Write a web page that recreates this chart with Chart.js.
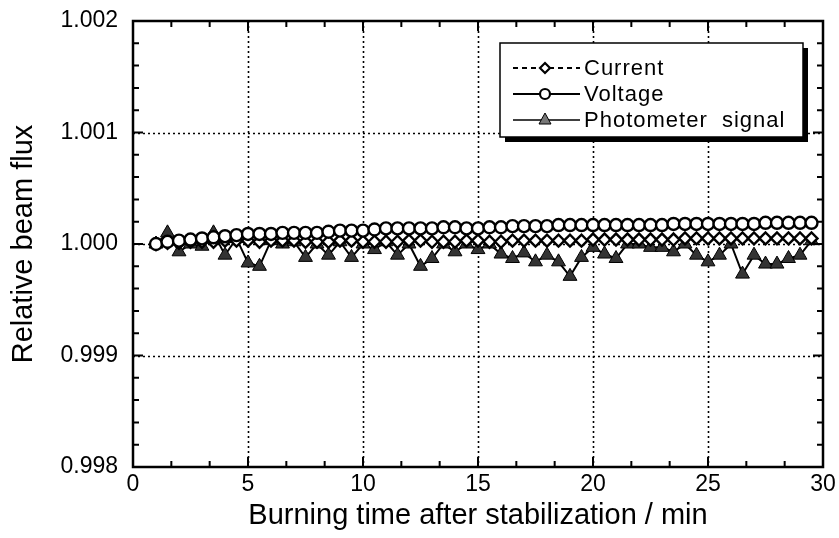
<!DOCTYPE html>
<html>
<head>
<meta charset="utf-8">
<script src="https://cdn.jsdelivr.net/npm/chart.js@4"></script>
<style>
  body { margin: 0; background: #fff; }
  canvas { display: block; }
</style>
</head>
<body>
<canvas id="chart_flux" width="839" height="538"></canvas>
<script>
// burning time (min)
const times = [1, 1.5, 2, 2.5, 3, 3.5, 4, 4.5, 5, 5.5, 6, 6.5, 7, 7.5, 8, 8.5, 9, 9.5, 10, 10.5,
  11, 11.5, 12, 12.5, 13, 13.5, 14, 14.5, 15, 15.5, 16, 16.5, 17, 17.5, 18, 18.5, 19, 19.5, 20, 20.5,
  21, 21.5, 22, 22.5, 23, 23.5, 24, 24.5, 25, 25.5, 26, 26.5, 27, 27.5, 28, 28.5, 29, 29.5];

const currentVals = [1.00000, 1.00001, 1.00001, 1.00002, 1.00002, 1.00002, 1.00003, 1.00003, 1.00003, 1.00002,
  1.00003, 1.00003, 1.00003, 1.00002, 1.00002, 1.00002, 1.00003, 1.00003, 1.00002, 1.00002,
  1.00002, 1.00002, 1.00003, 1.00003, 1.00002, 1.00002, 1.00002, 1.00003, 1.00003, 1.00002,
  1.00002, 1.00003, 1.00003, 1.00003, 1.00003, 1.00003, 1.00003, 1.00003, 1.00004, 1.00004,
  1.00004, 1.00004, 1.00004, 1.00004, 1.00004, 1.00004, 1.00005, 1.00005, 1.00005, 1.00005,
  1.00005, 1.00005, 1.00005, 1.00005, 1.00005, 1.00005, 1.00005, 1.00005];

const voltageVals = [1.00000, 1.00002, 1.00003, 1.00004, 1.00005, 1.00006, 1.00007, 1.00008, 1.00009, 1.00009,
  1.00009, 1.00010, 1.00010, 1.00010, 1.00010, 1.00011, 1.00012, 1.00012, 1.00012, 1.00013,
  1.00014, 1.00014, 1.00014, 1.00014, 1.00014, 1.00015, 1.00015, 1.00014, 1.00014, 1.00015,
  1.00015, 1.00016, 1.00016, 1.00016, 1.00016, 1.00017, 1.00017, 1.00017, 1.00017, 1.00017,
  1.00017, 1.00017, 1.00017, 1.00017, 1.00017, 1.00018, 1.00018, 1.00018, 1.00018, 1.00018,
  1.00018, 1.00018, 1.00018, 1.00019, 1.00019, 1.00019, 1.00019, 1.00019];

const photometerVals = [1.00000, 1.00010, 0.99993, 1.00000, 0.99998, 1.00010, 0.99990, 1.00005, 0.99983, 0.99980,
  1.00003, 1.00000, 1.00002, 0.99988, 1.00000, 0.99990, 1.00002, 0.99988, 1.00000, 0.99995,
  1.00002, 0.99990, 1.00000, 0.99980, 0.99987, 1.00000, 0.99993, 1.00000, 0.99995, 1.00000,
  0.99991, 0.99987, 0.99992, 0.99984, 0.99990, 0.99984, 0.99971, 0.99988, 0.99997, 0.99991,
  0.99987, 1.00000, 1.00000, 0.99997, 0.99997, 0.99993, 1.00000, 0.99990, 0.99984, 0.99990,
  1.00000, 0.99973, 0.99990, 0.99982, 0.99982, 0.99987, 0.99990, 1.00003];

const seriesNames = ["Current", "Voltage", "Photometer  signal"];
const xTitle = "Burning time after stabilization / min";
const yTitle = "Relative beam flux";

const FONT = "'Liberation Sans', Arial, Helvetica, sans-serif";
const TRI_FILL = "#333";

function pts(vals) {
  return times.map((t, i) => ({ x: t, y: vals[i] }));
}

// dotted grid, frame with inward ticks, boxed legend
const framePlugin = {
  id: "frame",
  beforeDatasetsDraw(chart) {
    const { ctx, chartArea: a, scales } = chart;
    const x = scales.x, y = scales.y;
    ctx.save();
    ctx.strokeStyle = "#000";
    ctx.lineWidth = 1.6;
    ctx.setLineDash([2, 3]);
    x.ticks.forEach((t) => {
      const px = Math.round(x.getPixelForValue(t.value)) + 0.5;
      if (px > a.left + 3 && px < a.right - 3) {
        ctx.beginPath(); ctx.moveTo(px, a.top); ctx.lineTo(px, a.bottom); ctx.stroke();
      }
    });
    y.ticks.forEach((t) => {
      const py = Math.round(y.getPixelForValue(t.value)) + 0.5;
      if (py > a.top + 3 && py < a.bottom - 3) {
        ctx.beginPath(); ctx.moveTo(a.left, py); ctx.lineTo(a.right, py); ctx.stroke();
      }
    });
    ctx.restore();
  },
  afterDatasetsDraw(chart) {
    const { ctx, chartArea: a, scales } = chart;
    const x = scales.x, y = scales.y;
    ctx.save();
    ctx.setLineDash([]);
    ctx.strokeStyle = "#000";
    ctx.lineWidth = 2.5;
    ctx.strokeRect(a.left, a.top, a.right - a.left, a.bottom - a.top);

    ctx.lineWidth = 2;
    const xStep = 5, yStep = 0.001;
    x.ticks.forEach((t) => {
      for (let k = 0; k < 3; k++) {
        const v = t.value + (k * xStep) / 3;
        if (v > x.max) break;
        const px = x.getPixelForValue(v);
        const len = k === 0 ? 10 : 6;
        ctx.beginPath();
        ctx.moveTo(px, a.bottom); ctx.lineTo(px, a.bottom - len);
        ctx.moveTo(px, a.top); ctx.lineTo(px, a.top + len);
        ctx.stroke();
      }
    });
    y.ticks.forEach((t) => {
      for (let k = 0; k < 5; k++) {
        const v = t.value + (k * yStep) / 5;
        if (v > y.max + 1e-9) break;
        const py = y.getPixelForValue(v);
        const len = k === 0 ? 10 : 6;
        ctx.beginPath();
        ctx.moveTo(a.left, py); ctx.lineTo(a.left + len, py);
        ctx.moveTo(a.right, py); ctx.lineTo(a.right - len, py);
        ctx.stroke();
      }
    });

    // legend box with shadow
    const bx = 500, by = 43, bw = 303, bh = 94;
    ctx.fillStyle = "#000";
    ctx.fillRect(bx + 5, by + 5, bw, bh);
    ctx.fillStyle = "#fff";
    ctx.fillRect(bx, by, bw, bh);
    ctx.lineWidth = 1.5;
    ctx.strokeRect(bx, by, bw, bh);

    const rows = [68, 94, 120];
    const lx0 = 513, lx1 = 580, mx = 545;
    rows.forEach((ry, i) => {
      ctx.strokeStyle = "#000";
      ctx.lineWidth = i === 2 ? 1.5 : 2;
      ctx.setLineDash(i === 0 ? [5, 4] : []);
      ctx.beginPath(); ctx.moveTo(lx0, ry); ctx.lineTo(lx1, ry); ctx.stroke();
      ctx.setLineDash([]);
      ctx.lineWidth = 2.2;
      if (i === 0) {
        ctx.beginPath();
        ctx.moveTo(mx, ry - 5); ctx.lineTo(mx + 5, ry); ctx.lineTo(mx, ry + 5); ctx.lineTo(mx - 5, ry); ctx.closePath();
        ctx.fillStyle = "#fff"; ctx.fill(); ctx.stroke();
      } else if (i === 1) {
        ctx.beginPath(); ctx.arc(mx, ry, 5, 0, Math.PI * 2);
        ctx.fillStyle = "#fff"; ctx.fill(); ctx.stroke();
      } else {
        ctx.beginPath();
        ctx.moveTo(mx, ry - 7); ctx.lineTo(mx + 6, ry + 4); ctx.lineTo(mx - 6, ry + 4); ctx.closePath();
        ctx.fillStyle = "#777"; ctx.fill();
        ctx.lineWidth = 1; ctx.stroke();
      }
      ctx.fillStyle = "#000";
      ctx.font = "22px " + FONT;
      ctx.textBaseline = "middle";
      ctx.textAlign = "left";
      if ("letterSpacing" in ctx) ctx.letterSpacing = "1px";
      ctx.fillText(seriesNames[i], 584, ry + 1);
      if ("letterSpacing" in ctx) ctx.letterSpacing = "0px";
    });
    ctx.restore();
  },
};

const ctx = document.getElementById("chart_flux").getContext("2d");

const fluxChart = new Chart(ctx, {
  type: "line",
  data: {
    datasets: [
      {
        label: seriesNames[1],
        data: pts(voltageVals),
        borderColor: "#000",
        borderWidth: 2,
        pointStyle: "circle",
        pointRadius: 6,
        pointBackgroundColor: "#fff",
        pointBorderColor: "#000",
        pointBorderWidth: 2.4,
        tension: 0,
      },
      {
        label: seriesNames[0],
        data: pts(currentVals),
        borderColor: "#000",
        borderWidth: 1.6,
        borderDash: [5, 4],
        pointStyle: "rectRot",
        pointRadius: 6,
        pointBackgroundColor: "#fff",
        pointBorderColor: "#000",
        pointBorderWidth: 2.4,
        tension: 0,
      },
      {
        label: seriesNames[2],
        data: pts(photometerVals),
        borderColor: "#000",
        borderWidth: 2,
        pointStyle: "triangle",
        pointRadius: 8,
        pointBackgroundColor: TRI_FILL,
        pointBorderColor: "#000",
        pointBorderWidth: 1,
        tension: 0,
      },
    ],
  },
  options: {
    responsive: false,
    animation: false,
    devicePixelRatio: 1,
    layout: {
      padding: { top: 21, right: 16, left: 0, bottom: 0 },
    },
    plugins: {
      legend: { display: false },
      tooltip: { enabled: false },
    },
    scales: {
      x: {
        type: "linear",
        min: 0,
        max: 30,
        grid: { display: false, drawTicks: false },
        border: { display: false },
        ticks: {
          stepSize: 5,
          padding: 4,
          color: "#000",
          font: { family: FONT, size: 23 },
          maxRotation: 0,
        },
        title: {
          display: true,
          text: xTitle,
          color: "#000",
          font: { family: FONT, size: 29 },
          padding: { top: 0, bottom: 5 },
        },
        afterFit(scale) {
          scale.height = 71;
          scale.paddingLeft = 0;
          scale.paddingRight = 0;
        },
      },
      y: {
        type: "linear",
        min: 0.998,
        max: 1.002,
        grid: { display: false, drawTicks: false },
        border: { display: false },
        ticks: {
          stepSize: 0.001,
          padding: 15,
          color: "#000",
          font: { family: FONT, size: 23 },
          callback: (v) => v.toFixed(3),
        },
        title: {
          display: true,
          text: yTitle,
          color: "#000",
          font: { family: FONT, size: 29 },
          padding: { top: 7, bottom: 0 },
        },
        afterFit(scale) {
          scale.width = 133;
          scale.paddingTop = 0;
          scale.paddingBottom = 0;
        },
      },
    },
  },
  plugins: [framePlugin],
});
</script>
</body>
</html>
